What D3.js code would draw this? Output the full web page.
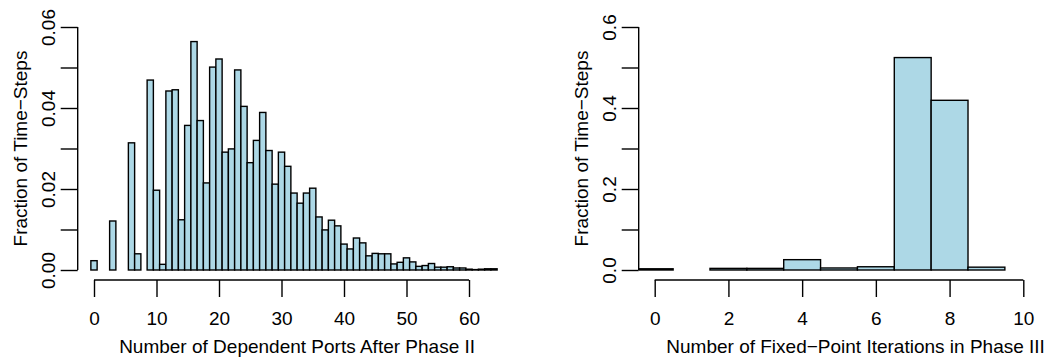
<!DOCTYPE html>
<html>
<head>
<meta charset="utf-8">
<script src="https://cdn.jsdelivr.net/npm/d3@7"></script>
<style>
  body { margin: 0; background: #fff; }
  text { font-family: "Liberation Sans", Arial, Helvetica, sans-serif; fill: #000; }
</style>
</head>
<body>
<div id="chart"></div>
<script>
// left histogram: bins 0..64 (one port per bin)
const portBins = d3.range(0, 65);
const portFrac = [
  0.0023, 0, 0, 0.0121, 0, 0, 0.0314, 0.0040, 0, 0.0469,
  0.0197, 0.0014, 0.0442, 0.0445, 0.0124, 0.0357, 0.0564, 0.0369, 0.0215, 0.0501,
  0.0521, 0.0291, 0.0299, 0.0494, 0.0404, 0.0265, 0.0320, 0.0389, 0.0295, 0.0212,
  0.0291, 0.0256, 0.0190, 0.0165, 0.0190, 0.0202, 0.0131, 0.0099, 0.0123, 0.0109,
  0.0064, 0.0052, 0.0079, 0.0067, 0.0035, 0.0041, 0.0040, 0.0040, 0.0015, 0.0019,
  0.0030, 0.0020, 0.0009, 0.0011, 0.0016, 0.0007, 0.0007, 0.0008, 0.0005, 0.0005,
  0.0002, 0.0001, 0.0002, 0.0003, 0.0003
];
const portTicks = [0, 10, 20, 30, 40, 50, 60];
const portYTicks = [0, 0.01, 0.02, 0.03, 0.04, 0.05, 0.06];
const portYLabels = ["0.00", "", "0.02", "", "0.04", "", "0.06"];

// right histogram: iterations 0..10
const iterBins = d3.range(0, 11);
const iterFrac = [0.003, 0, 0.004, 0.004, 0.0255, 0.005, 0.008, 0.5245, 0.419, 0.007, 0];
const iterTicks = [0, 2, 4, 6, 8, 10];
const iterYTicks = [0, 0.1, 0.2, 0.3, 0.4, 0.5, 0.6];
const iterYLabels = ["0.0", "", "0.2", "", "0.4", "", "0.6"];

const width = 1055, height = 362;
const fs = '19px';
const lw = 1.4;
const svg = d3.select('#chart').append('svg')
  .attr('width', width).attr('height', height);

function drawHist(cfg) {
  const g = svg.append('g');
  const x = d3.scaleLinear().domain(cfg.xDomain).range(cfg.xRange);
  const y = d3.scaleLinear().domain(cfg.yDomain).range([270, 27]);
  const left = cfg.plotLeft, right = cfg.plotRight;

  const clipId = 'clip' + cfg.id;
  g.append('clipPath').attr('id', clipId)
    .append('rect').attr('x', left).attr('y', 0).attr('width', right - left).attr('height', 290);

  g.append('g').attr('clip-path', `url(#${clipId})`)
    .selectAll('rect')
    .data(cfg.bins.map((b, i) => ({ b, v: cfg.values[i] })))
    .enter()
    .append('rect')
    .attr('x', d => x(d.b - 0.5))
    .attr('y', d => y(d.v))
    .attr('width', d => x(d.b + 0.5) - x(d.b - 0.5))
    .attr('height', d => y(0) - y(d.v))
    .attr('fill', '#add8e6')
    .attr('stroke', '#000')
    .attr('stroke-width', lw);

  // y axis
  const yAxis = d3.axisLeft(y).tickValues(cfg.yTicks).tickSize(17)
    .tickFormat((d, i) => cfg.yLabels[i]);
  const ya = g.append('g').attr('transform', `translate(${left},0)`).call(yAxis);
  ya.select('.domain').attr('d', `M0,${y(0)}V${y(cfg.yDomain[1])}`).attr('stroke-width', lw);
  ya.selectAll('.tick line').attr('stroke-width', lw);
  ya.selectAll('.tick text')
    .attr('x', null).attr('dy', null)
    .attr('transform', `translate(${-22.7},0) rotate(-90)`)
    .attr('text-anchor', 'middle')
    .style('font-size', fs);

  // x axis
  const xAxis = d3.axisBottom(x).tickValues(cfg.xTicks).tickSize(17).tickSizeOuter(0);
  const xa = g.append('g').attr('transform', 'translate(0,280)').call(xAxis);
  xa.select('.domain').attr('d', `M${x(cfg.xTicks[0])},0H${x(cfg.xTicks[cfg.xTicks.length - 1])}`)
    .attr('stroke-width', lw);
  xa.selectAll('.tick line').attr('stroke-width', lw);
  xa.selectAll('.tick text').attr('y', 45).attr('dy', null)
    .style('font-size', fs);

  g.append('text')
    .attr('x', (left + right) / 2 + cfg.titleShift).attr('y', 353)
    .attr('text-anchor', 'middle')
    .style('font-size', fs)
    .text(cfg.xTitle);
  g.append('text')
    .attr('transform', `translate(${left - 50.7},148.5) rotate(-90)`)
    .attr('text-anchor', 'middle')
    .style('font-size', fs)
    .text('Fraction of Time\u2212Steps');
}

drawHist({
  id: 'a', bins: portBins, values: portFrac,
  xDomain: [0, 60], xRange: [94, 469],
  yDomain: [0, 0.06], yTicks: portYTicks, yLabels: portYLabels,
  xTicks: portTicks, plotLeft: 77.7, plotRight: 516.5, titleShift: 0,
  xTitle: 'Number of Dependent Ports After Phase II'
});

drawHist({
  id: 'b', bins: iterBins, values: iterFrac,
  xDomain: [0, 10], xRange: [654.7, 1023.3],
  yDomain: [0, 0.6], yTicks: iterYTicks, yLabels: iterYLabels,
  xTicks: iterTicks, plotLeft: 638.7, plotRight: 1038.5, titleShift: 17,
  xTitle: 'Number of Fixed\u2212Point Iterations in Phase III'
});
</script>
</body>
</html>
